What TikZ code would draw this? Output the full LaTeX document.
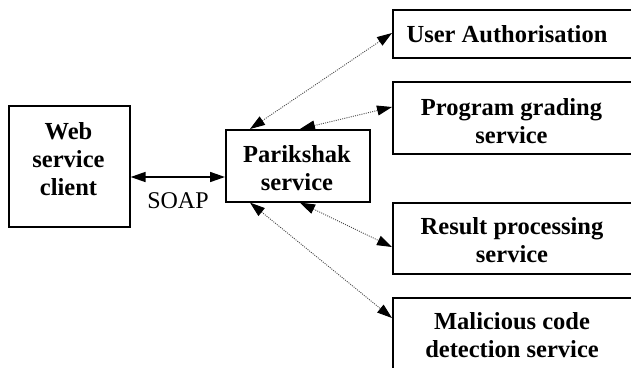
\documentclass[tikz,border=0pt]{standalone}
\usepackage{fontspec}
\setmainfont{Liberation Serif}
\usetikzlibrary{arrows.meta,calc}
\begin{document}
\begin{tikzpicture}[x=1bp,y=-1bp,
  box/.style={draw=black, line width=1.6bp, inner sep=0pt, anchor=north west},
  lbl/.style={font=\fontsize{24.5bp}{28bp}\selectfont\bfseries, align=center, inner sep=0pt},
  plain/.style={font=\fontsize{24bp}{28bp}\selectfont, inner sep=0pt},
  dotlink/.style={draw=black!70, line width=0.9bp, dash pattern=on 1bp off 1.2bp, {Triangle[length=15bp,width=10bp,color=black]}-{Triangle[length=15bp,width=10bp,color=black]}},
  soap/.style={draw=black, line width=1.6bp, {Triangle[length=15bp,width=10bp]}-{Triangle[length=15bp,width=10bp]}}]
\useasboundingbox (0,0) rectangle (631,367);
\clip (0,0) rectangle (631,367);
% boxes
\node[box, minimum width=121bp, minimum height=121bp] (wc) at (8,105) {};
\node[box, minimum width=144bp, minimum height=72bp] (pk) at (225,129) {};
\node[box, minimum width=248bp, minimum height=48bp] (ua) at (392,9) {};
\node[box, minimum width=248bp, minimum height=72bp] (pg) at (392,81) {};
\node[box, minimum width=248bp, minimum height=71bp] (rp) at (392,202) {};
\node[box, minimum width=248bp, minimum height=80bp] (mc) at (392,297) {};
% labels
\node[lbl] (wct) at (68.5,159.5) {Web\\service\\client};
\node[lbl] (pkt) at (297,168.5) {Parikshak\\service};
\node[lbl] (uat) at (507,34.5) {User Authorisation};
\node[lbl] (pgt) at (511.5,121.5) {Program grading\\service};
\node[lbl] (rpt) at (512,240.5) {Result processing\\service};
\node[lbl] (mct) at (512,335) {Malicious code\\detection service};
\node[plain] (soapt) at (178,200.5) {SOAP};
% connectors
\draw[soap] ($(wc.north east)+(0,72)$) -- ($(pk.north west)+(0,48)$);
\draw[dotlink] ($(pk.north west)+(25,0)$) -- ($(ua.north west)+(0,24)$);
\draw[dotlink] ($(pk.north west)+(75,0)$) -- ($(pg.north west)+(0,26)$);
\draw[dotlink] ($(pk.south west)+(75,0)$) -- ($(rp.north west)+(0,45)$);
\draw[dotlink] ($(pk.south west)+(25,0)$) -- ($(mc.north west)+(0,21)$);
\end{tikzpicture}
\end{document}
